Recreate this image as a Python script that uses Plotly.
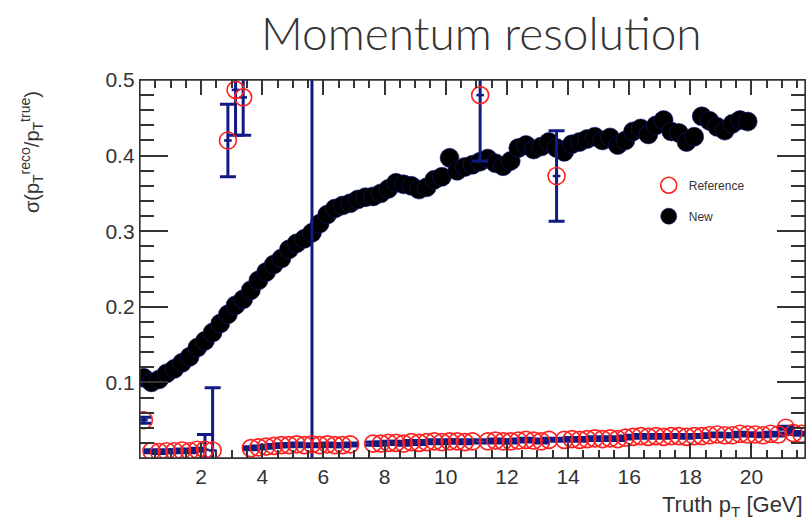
import plotly.graph_objects as go

# ---------------- data ----------------
bin_width = 0.25
new_x = [0.125 + 0.25 * i for i in range(80)]
new_y = [0.106, 0.100, 0.104, 0.112, 0.118, 0.126, 0.134, 0.146, 0.155, 0.166,
         0.178, 0.190, 0.202, 0.210, 0.222, 0.235, 0.246, 0.256, 0.264, 0.276,
         0.284, 0.290, 0.298, 0.310, 0.322, 0.330, 0.334, 0.337, 0.342, 0.345,
         0.346, 0.350, 0.356, 0.364, 0.362, 0.360, 0.355, 0.358, 0.368, 0.372,
         0.397, 0.380, 0.385, 0.388, 0.392, 0.396, 0.390, 0.386, 0.393, 0.410,
         0.414, 0.408, 0.412, 0.418, 0.410, 0.405, 0.415, 0.418, 0.422, 0.425,
         0.420, 0.424, 0.414, 0.420, 0.432, 0.436, 0.428, 0.440, 0.447, 0.432,
         0.430, 0.418, 0.425, 0.452, 0.446, 0.438, 0.433, 0.442, 0.447, 0.445]

ref_x = [0.125 + 0.25 * i for i in range(87)]
ref_y = [0.050, 0.009, 0.008, 0.009, 0.009, 0.010, 0.009, 0.011, 0.011, 0.010,
         None, 0.420, 0.487, 0.477, 0.013, 0.014, 0.015, 0.016, 0.017, 0.017,
         0.018, 0.017, 0.018, 0.017, 0.018, 0.017, 0.017, 0.018, None, None,
         0.019, 0.019, 0.020, 0.020, 0.019, 0.021, 0.020, 0.021, 0.022, 0.021,
         0.022, 0.022, 0.021, 0.022, 0.480, 0.022, 0.023, 0.022, 0.022, 0.023,
         0.024, 0.023, 0.022, 0.024, 0.373, 0.024, 0.025, 0.024, 0.025, 0.026,
         0.025, 0.026, 0.025, 0.027, 0.028, 0.029, 0.028, 0.029, 0.028, 0.029,
         0.029, 0.028, 0.029, 0.029, 0.030, 0.031, 0.030, 0.030, 0.032, 0.031,
         0.031, 0.030, 0.032, 0.031, 0.040, 0.033, 0.032]
ref_err = [0.004, 0.002, 0.002, 0.002, 0.002, 0.002, 0.002, 0.002, 0.020, 0.083,
           0.0, 0.048, 0.060, 0.050, 0.002, 0.002, 0.002, 0.002, 0.002, 0.002,
           0.002, 0.002, 0.600, 0.002, 0.002, 0.002, 0.002, 0.002, 0.0, 0.0,
           0.002, 0.002, 0.002, 0.002, 0.002, 0.002, 0.002, 0.002, 0.002, 0.002,
           0.002, 0.002, 0.002, 0.002, 0.087, 0.002, 0.002, 0.002, 0.002, 0.002,
           0.002, 0.002, 0.002, 0.002, 0.060, 0.002, 0.002, 0.002, 0.002, 0.002,
           0.002, 0.002, 0.002, 0.002, 0.002, 0.002, 0.002, 0.002, 0.002, 0.002,
           0.002, 0.002, 0.002, 0.002, 0.002, 0.002, 0.002, 0.002, 0.002, 0.002,
           0.002, 0.002, 0.002, 0.002, 0.002, 0.002, 0.002]

x_range = [0, 21.75]
y_range = [0, 0.5]
x_ticks = [2, 4, 6, 8, 10, 12, 14, 16, 18, 20]
y_ticks = [0.1, 0.2, 0.3, 0.4, 0.5]
y_tick_text = ["0.1", "0.2", "0.3", "0.4", "0.5"]

NAVY = "#0f1a82"
AXC = "#333333"
FONT = "Liberation Sans"

fig = go.Figure()

fig.add_trace(go.Scatter(
    x=new_x, y=new_y, mode="markers", name="New",
    legendgroup="new", legendrank=2,
    marker=dict(symbol="circle", size=19, color="black",
                line=dict(color=NAVY, width=0.6)),
))

fig.add_trace(go.Scatter(
    x=ref_x, y=ref_y, mode="markers", name="Reference",
    legendgroup="ref", legendrank=1,
    marker=dict(symbol="circle-open", size=17, color="#ff2020",
                line=dict(color="#ff2020", width=1.6)),
    error_y=dict(type="data", array=ref_err, visible=True,
                 color=NAVY, thickness=3, width=8),
    error_x=dict(type="constant", value=bin_width / 2, visible=True,
                 color=NAVY, thickness=2.5, width=0),
))

tickfont = dict(family=FONT, size=21, color="#333333")

fig.update_layout(
    xaxis=dict(range=x_range, tickmode="array", tickvals=x_ticks,
               ticks="inside", ticklen=15, tickwidth=1.5, tickcolor=AXC,
               minor=dict(tickmode="linear", tick0=0, dtick=0.5, ticks="inside",
                          ticklen=8, tickwidth=1.5, tickcolor=AXC),
               showline=True, linecolor=AXC, linewidth=1.3, mirror="allticks",
               showgrid=False, zeroline=False, tickfont=tickfont),
    yaxis=dict(range=y_range, tickmode="array", tickvals=y_ticks,
               ticktext=y_tick_text,
               ticks="inside", ticklen=28, tickwidth=1.5, tickcolor=AXC,
               minor=dict(tickmode="linear", tick0=0, dtick=0.02, ticks="inside",
                          ticklen=14, tickwidth=1.5, tickcolor=AXC),
               showline=True, linecolor=AXC, linewidth=1.3, mirror="allticks",
               showgrid=False, zeroline=False, tickfont=tickfont),
    width=809, height=521,
    margin=dict(l=140, r=4, t=80, b=63),
    plot_bgcolor="white", paper_bgcolor="white",
    font=dict(family=FONT, color="#333333"),
    title=dict(text="Momentum resolution", xref="container", yref="container",
               x=0.595, y=0.935, xanchor="center", yanchor="middle",
               font=dict(family="Lato", size=46, color="#333333", weight=300)),
    legend=dict(x=0.765, y=0.76, xanchor="left", yanchor="top",
                traceorder="grouped", tracegroupgap=12,
                bgcolor="rgba(0,0,0,0)",
                font=dict(family=FONT, size=12, color="#333333"),
                itemwidth=30),
    shapes=[dict(type="rect", xref="paper", yref="paper", x0=0, y0=0, x1=1, y1=1,
                 line=dict(color=AXC, width=1.3), fillcolor="rgba(0,0,0,0)",
                 layer="above")],
    annotations=[
        dict(text="σ(p<sub>T</sub><sup>reco</sup>/p<sub>T</sub><sup>true</sup>)",
             xref="paper", yref="paper", x=-0.162, y=0.81, textangle=-90,
             xanchor="center", yanchor="middle", showarrow=False,
             font=dict(family=FONT, size=20, color="#333333")),
        dict(text="Truth p<sub>T</sub> [GeV]", xref="paper", yref="paper",
             x=1.0, y=-0.168, xanchor="right", yanchor="bottom", showarrow=False,
             font=dict(family=FONT, size=22, color="#333333")),
    ],
)

fig.write_html("out.html")
